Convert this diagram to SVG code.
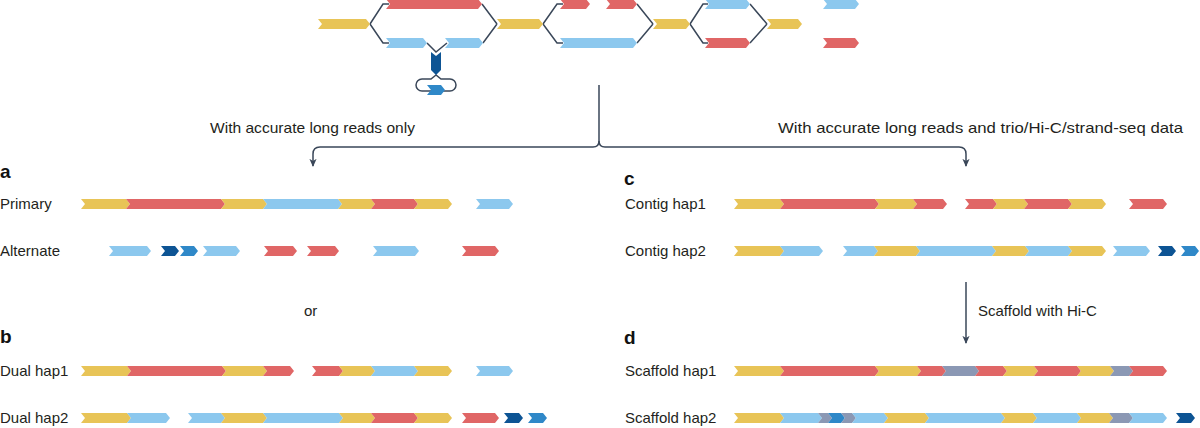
<svg xmlns="http://www.w3.org/2000/svg" width="1200" height="428" viewBox="0 0 1200 428">
<style>
.y{fill:#E8C457}.r{fill:#E06666}.b{fill:#8CC8EE}.db{fill:#0D5494}.mb{fill:#2F88C8}.g{fill:#8B98B4}
.ln{fill:none;stroke:#3A4759;stroke-width:1.5}
.t{font-family:"Liberation Sans",Arial,sans-serif;font-size:15px;fill:#231f20}
.h{font-family:"Liberation Sans",Arial,sans-serif;font-size:15px;fill:#231f20}
.L{font-family:"Liberation Sans",Arial,sans-serif;font-size:19px;font-weight:bold;fill:#111}
</style>
<defs>
<marker id="ah" viewBox="0 0 10 10" refX="8" refY="5" markerWidth="9" markerHeight="9" markerUnits="userSpaceOnUse" orient="auto">
<path d="M0,1L9,5L0,9L2.5,5z" fill="#3A4759"/>
</marker>
</defs>
<rect width="1200" height="428" fill="#fff"/>

<g id="connectors">
<path class="ln" d="M370,24L383,4H389M370,24L383,43H389"/>
<path class="ln" d="M482,4L497,24M483,43L497,24"/>
<path class="ln" d="M543,24L557,4H563M543,24L557,43H563"/>
<path class="ln" d="M637,4L653,24M637,43L653,24"/>
<path class="ln" d="M690,24L703,4H708M690,24L703,43H708"/>
<path class="ln" d="M750,4L767,24M750,43L767,24"/>
<path class="ln" d="M427,43L436,52L447,43"/>
<path class="ln" d="M436,75L431,79H422A6,6 0 0 0 422,91H450A6,6 0 0 0 450,79H441Z"/>
<path class="ln" d="M599,85V141Q599,147 593,147H320Q313,147 313,154V166" marker-end="url(#ah)"/>
<path class="ln" d="M599,141Q599,147 605,147H959Q966,147 966,154V166" marker-end="url(#ah)"/>
<path class="ln" d="M966,282V343" marker-end="url(#ah)"/>
</g>

<g id="graph">
<path class="y" d="M318,19h48l4,5l-4,5h-48l4,-5z"/>
<path class="r" d="M386,-1h92l4,5l-4,5h-92l4,-5z"/>
<path class="b" d="M386,38h37l4,5l-4,5h-37l4,-5z"/>
<path class="b" d="M445,38h34l4,5l-4,5h-34l4,-5z"/>
<path class="y" d="M497,19h42l4,5l-4,5h-42l4,-5z"/>
<path class="r" d="M560,-1h26l4,5l-4,5h-26l4,-5z"/>
<path class="r" d="M606,-1h27l4,5l-4,5h-27l4,-5z"/>
<path class="b" d="M560,38h73l4,5l-4,5h-73l4,-5z"/>
<path class="y" d="M653,19h33l4,5l-4,5h-33l4,-5z"/>
<path class="b" d="M705,-1h41l4,5l-4,5h-41l4,-5z"/>
<path class="r" d="M705,38h41l4,5l-4,5h-41l4,-5z"/>
<path class="y" d="M767,19h31l4,5l-4,5h-31l4,-5z"/>
<path class="b" d="M823,-1h32l4,5l-4,5h-32l4,-5z"/>
<path class="r" d="M823,38h32l4,5l-4,5h-32l4,-5z"/>
<path class="db" d="M431,52L436,56L441,52V70L436,75L431,70Z"/>
<path class="mb" d="M427,85h14l4,5l-4,5h-14l4,-5z"/>
</g>

<g id="headers">
<text class="h" x="210" y="133" textLength="205" lengthAdjust="spacingAndGlyphs">With accurate long reads only</text>
<text class="h" x="778" y="133" textLength="405" lengthAdjust="spacingAndGlyphs">With accurate long reads and trio/Hi-C/strand-seq data</text>
<text class="t" x="304" y="316">or</text>
<text class="t" x="978" y="316">Scaffold with Hi-C</text>
</g>

<g id="panel-a">
<text class="L" x="0" y="178">a</text>
<text class="t" x="0" y="209">Primary</text>
<text class="t" x="0" y="256">Alternate</text>
<path class="y" d="M81,199h45l4,5l-4,5h-45l4,-5z"/>
<path class="r" d="M126,199h95l4,5l-4,5h-95l4,-5z"/>
<path class="y" d="M221,199h42l4,5l-4,5h-42l4,-5z"/>
<path class="b" d="M263,199h75l4,5l-4,5h-75l4,-5z"/>
<path class="y" d="M338,199h33l4,5l-4,5h-33l4,-5z"/>
<path class="r" d="M371,199h43l4,5l-4,5h-43l4,-5z"/>
<path class="y" d="M414,199h34l4,5l-4,5h-34l4,-5z"/>
<path class="b" d="M476,199h33l4,5l-4,5h-33l4,-5z"/>
<path class="b" d="M109,246h38l4,5l-4,5h-38l4,-5z"/>
<path class="db" d="M161,246h14l4,5l-4,5h-14l4,-5z"/>
<path class="mb" d="M180,246h14l4,5l-4,5h-14l4,-5z"/>
<path class="b" d="M203,246h33l4,5l-4,5h-33l4,-5z"/>
<path class="r" d="M264,246h29l4,5l-4,5h-29l4,-5z"/>
<path class="r" d="M307,246h28l4,5l-4,5h-28l4,-5z"/>
<path class="b" d="M373,246h42l4,5l-4,5h-42l4,-5z"/>
<path class="r" d="M462,246h33l4,5l-4,5h-33l4,-5z"/>
</g>

<g id="panel-b">
<text class="L" x="0" y="343">b</text>
<text class="t" x="0" y="376">Dual hap1</text>
<text class="t" x="0" y="423">Dual hap2</text>
<path class="y" d="M81,366h46l4,5l-4,5h-46l4,-5z"/>
<path class="r" d="M127,366h95l4,5l-4,5h-95l4,-5z"/>
<path class="y" d="M222,366h41l4,5l-4,5h-41l4,-5z"/>
<path class="r" d="M263,366h27l4,5l-4,5h-27l4,-5z"/>
<path class="r" d="M312,366h27l4,5l-4,5h-27l4,-5z"/>
<path class="y" d="M339,366h32l4,5l-4,5h-32l4,-5z"/>
<path class="b" d="M371,366h43l4,5l-4,5h-43l4,-5z"/>
<path class="y" d="M414,366h34l4,5l-4,5h-34l4,-5z"/>
<path class="b" d="M476,366h33l4,5l-4,5h-33l4,-5z"/>
<path class="y" d="M81,413h46l4,5l-4,5h-46l4,-5z"/>
<path class="b" d="M127,413h39l4,5l-4,5h-39l4,-5z"/>
<path class="b" d="M188,413h33l4,5l-4,5h-33l4,-5z"/>
<path class="y" d="M221,413h42l4,5l-4,5h-42l4,-5z"/>
<path class="b" d="M263,413h76l4,5l-4,5h-76l4,-5z"/>
<path class="y" d="M339,413h32l4,5l-4,5h-32l4,-5z"/>
<path class="r" d="M371,413h43l4,5l-4,5h-43l4,-5z"/>
<path class="y" d="M414,413h34l4,5l-4,5h-34l4,-5z"/>
<path class="r" d="M462,413h33l4,5l-4,5h-33l4,-5z"/>
<path class="db" d="M504,413h15l4,5l-4,5h-15l4,-5z"/>
<path class="mb" d="M528,413h15l4,5l-4,5h-15l4,-5z"/>
</g>

<g id="panel-c">
<text class="L" x="624" y="185">c</text>
<text class="t" x="625" y="209">Contig hap1</text>
<text class="t" x="625" y="256">Contig hap2</text>
<path class="y" d="M734,199h46l4,5l-4,5h-46l4,-5z"/>
<path class="r" d="M780,199h95l4,5l-4,5h-95l4,-5z"/>
<path class="y" d="M875,199h38l4,5l-4,5h-38l4,-5z"/>
<path class="r" d="M913,199h30l4,5l-4,5h-30l4,-5z"/>
<path class="r" d="M965,199h28l4,5l-4,5h-28l4,-5z"/>
<path class="y" d="M993,199h31l4,5l-4,5h-31l4,-5z"/>
<path class="r" d="M1024,199h44l4,5l-4,5h-44l4,-5z"/>
<path class="y" d="M1068,199h34l4,5l-4,5h-34l4,-5z"/>
<path class="r" d="M1129,199h34l4,5l-4,5h-34l4,-5z"/>
<path class="y" d="M734,246h46l4,5l-4,5h-46l4,-5z"/>
<path class="b" d="M780,246h39l4,5l-4,5h-39l4,-5z"/>
<path class="b" d="M843,246h31l4,5l-4,5h-31l4,-5z"/>
<path class="y" d="M874,246h42l4,5l-4,5h-42l4,-5z"/>
<path class="b" d="M916,246h76l4,5l-4,5h-76l4,-5z"/>
<path class="y" d="M992,246h33l4,5l-4,5h-33l4,-5z"/>
<path class="b" d="M1025,246h43l4,5l-4,5h-43l4,-5z"/>
<path class="y" d="M1068,246h34l4,5l-4,5h-34l4,-5z"/>
<path class="b" d="M1113,246h33l4,5l-4,5h-33l4,-5z"/>
<path class="db" d="M1158,246h14l4,5l-4,5h-14l4,-5z"/>
<path class="mb" d="M1181,246h14l4,5l-4,5h-14l4,-5z"/>
</g>

<g id="panel-d">
<text class="L" x="624" y="344">d</text>
<text class="t" x="625" y="376">Scaffold hap1</text>
<text class="t" x="625" y="423">Scaffold hap2</text>
<path class="y" d="M734,366h46l4,5l-4,5h-46l4,-5z"/>
<path class="r" d="M780,366h95l4,5l-4,5h-95l4,-5z"/>
<path class="y" d="M875,366h42l4,5l-4,5h-42l4,-5z"/>
<path class="r" d="M917,366h25l4,5l-4,5h-25l4,-5z"/>
<path class="g" d="M942,366h33l4,5l-4,5h-33l4,-5z"/>
<path class="r" d="M975,366h28l4,5l-4,5h-28l4,-5z"/>
<path class="y" d="M1003,366h31l4,5l-4,5h-31l4,-5z"/>
<path class="r" d="M1034,366h43l4,5l-4,5h-43l4,-5z"/>
<path class="y" d="M1077,366h33l4,5l-4,5h-33l4,-5z"/>
<path class="g" d="M1110,366h19l4,5l-4,5h-19l4,-5z"/>
<path class="r" d="M1129,366h34l4,5l-4,5h-34l4,-5z"/>
<path class="y" d="M734,413h46l4,5l-4,5h-46l4,-5z"/>
<path class="b" d="M780,413h38l4,5l-4,5h-38l4,-5z"/>
<path class="g" d="M818,413h10l4,5l-4,5h-10l4,-5z"/>
<path class="mb" d="M828,413h13l4,5l-4,5h-13l4,-5z"/>
<path class="g" d="M841,413h11l4,5l-4,5h-11l4,-5z"/>
<path class="b" d="M852,413h32l4,5l-4,5h-32l4,-5z"/>
<path class="y" d="M884,413h41l4,5l-4,5h-41l4,-5z"/>
<path class="b" d="M925,413h76l4,5l-4,5h-76l4,-5z"/>
<path class="y" d="M1001,413h32l4,5l-4,5h-32l4,-5z"/>
<path class="b" d="M1033,413h44l4,5l-4,5h-44l4,-5z"/>
<path class="y" d="M1077,413h32l4,5l-4,5h-32l4,-5z"/>
<path class="g" d="M1109,413h20l4,5l-4,5h-20l4,-5z"/>
<path class="b" d="M1129,413h34l4,5l-4,5h-34l4,-5z"/>
<path class="db" d="M1176,413h15l4,5l-4,5h-15l4,-5z"/>
</g>
</svg>
